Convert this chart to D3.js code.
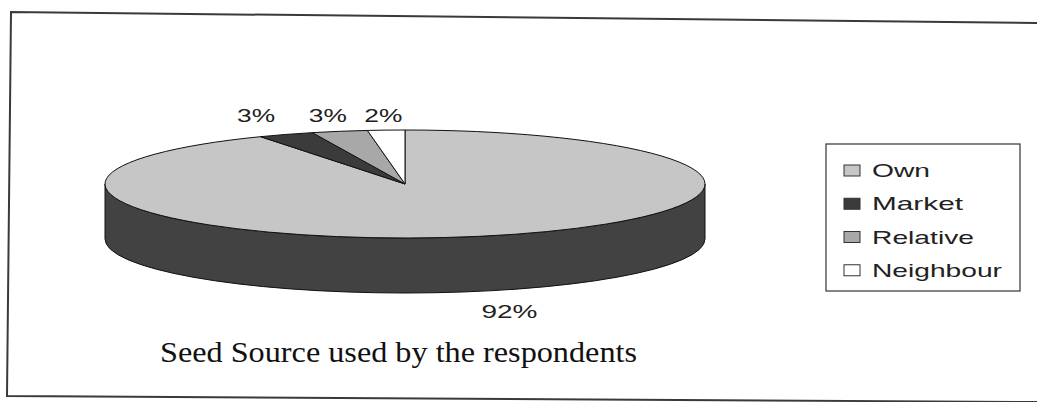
<!DOCTYPE html>
<meta charset="utf-8">
<script src="https://d3js.org/d3.v7.min.js"></script>
<style>
  body { margin: 0; background: #fff; }
</style>
<div id="my_dataviz"></div>
<script>

    // data
    var categories = ["Own", "Market", "Relative", "Neighbour"];
    var values = [92, 3, 3, 2];
    var labels = ["92%", "3%", "3%", "2%"];
    var title = "Seed Source used by the respondents";

    var width = 1037, height = 402;

    var svg = d3.select("#my_dataviz")
        .append("svg")
        .attr("width", width)
        .attr("height", height);

    // scanned frame (slightly skewed)
    var frame = d3.line();
    svg.append("path")
        .attr("d", frame([[1037, 23], [11, 12], [7, 396], [1037, 402]]))
        .attr("fill", "none")
        .attr("stroke", "#3a3a3a")
        .attr("stroke-width", 2);

    // pie geometry: ellipse for the top face plus a depth for the side
    var cx = 405, cy = 184, rx = 300, ry = 54, depth = 55;

    var topColor = d3.scaleOrdinal().domain(categories)
        .range(["#c6c6c6", "#3b3b3b", "#a8a8a8", "#ffffff"]);
    var sideColor = d3.scaleOrdinal().domain(categories)
        .range(["#424242", "#262626", "#707070", "#d0d0d0"]);

    var pie = d3.pie().sort(null).startAngle(0).endAngle(2 * Math.PI);
    var arcs = pie(values);

    function pt(a, k, dy) {
        return [cx + k * rx * Math.sin(a), cy - k * ry * Math.cos(a) + (dy || 0)];
    }

    function topPath(d) {
        var p0 = pt(d.startAngle, 1), p1 = pt(d.endAngle, 1);
        var large = (d.endAngle - d.startAngle) > Math.PI ? 1 : 0;
        return "M" + cx + "," + cy + "L" + p0 + "A" + rx + "," + ry + " 0 " + large + " 1 " + p1 + "Z";
    }

    function sidePath(d) {
        var a0 = Math.max(d.startAngle, Math.PI / 2), a1 = Math.min(d.endAngle, 3 * Math.PI / 2);
        if (a1 <= a0) return null;
        var p0 = pt(a0, 1), p1 = pt(a1, 1), q0 = pt(a0, 1, depth), q1 = pt(a1, 1, depth);
        return "M" + p0 + "A" + rx + "," + ry + " 0 0 1 " + p1 +
            "L" + q1 + "A" + rx + "," + ry + " 0 0 0 " + q0 + "Z";
    }

    // sides first
    svg.append("g").selectAll("path")
        .data(arcs.filter(function (d) { return sidePath(d) !== null; }))
        .enter().append("path")
        .attr("d", sidePath)
        .attr("fill", function (d, i) { return sideColor(categories[d.index]); })
        .attr("stroke", "#111")
        .attr("stroke-width", 1);

    // top face
    svg.append("g").selectAll("path")
        .data(arcs)
        .enter().append("path")
        .attr("d", topPath)
        .attr("fill", function (d) { return topColor(categories[d.index]); })
        .attr("stroke", "#111")
        .attr("stroke-width", 1)
        .attr("stroke-linejoin", "round");

    // percentage labels (outside the rim, like Excel)
    var labelK = [1.4, 1.25, 1.18, 1.15];
    svg.append("g").selectAll("text")
        .data(arcs)
        .enter().append("text")
        .attr("transform", function (d) {
            var a = (d.startAngle + d.endAngle) / 2;
            var front = Math.cos(a) < 0;
            var p = pt(a, labelK[d.index], front ? depth + 6 : 0);
            return "translate(" + p[0] + "," + p[1] + ")";
        })
        .attr("text-anchor", "middle")
        .attr("font-family", "Liberation Sans, Arial, sans-serif")
        .attr("font-size", 18)
        .attr("textLength", function (d) { return labels[d.index].length === 3 ? 56 : 38; })
        .attr("lengthAdjust", "spacingAndGlyphs")
        .attr("fill", "#222")
        .text(function (d) { return labels[d.index]; });

    // legend
    var legend = svg.append("g").attr("transform", "translate(826,144)");
    legend.append("rect")
        .attr("width", 194).attr("height", 147)
        .attr("fill", "#fff").attr("stroke", "#333").attr("stroke-width", 1.2);

    var legendW = [58, 91, 102, 130];
    var row = d3.scaleBand().domain(categories).range([14, 147]);
    var item = legend.selectAll(".item")
        .data(categories)
        .enter().append("g")
        .attr("transform", function (d) { return "translate(0," + row(d) + ")"; });
    item.append("rect")
        .attr("x", 18).attr("y", 7)
        .attr("width", 16).attr("height", 11)
        .attr("fill", function (d) { return topColor(d); })
        .attr("stroke", "#333").attr("stroke-width", 1);
    item.append("text")
        .attr("x", 46).attr("y", 19)
        .attr("font-family", "Liberation Sans, Arial, sans-serif")
        .attr("font-size", 19)
        .attr("textLength", function (d, i) { return legendW[i]; })
        .attr("lengthAdjust", "spacingAndGlyphs")
        .attr("fill", "#222")
        .text(function (d) { return d; });

    // title
    svg.append("text")
        .attr("x", 160).attr("y", 362)
        .attr("font-family", "Liberation Serif, Times New Roman, serif")
        .attr("font-size", 29)
        .attr("textLength", 477)
        .attr("lengthAdjust", "spacingAndGlyphs")
        .attr("fill", "#111")
        .text(title);

</script>
